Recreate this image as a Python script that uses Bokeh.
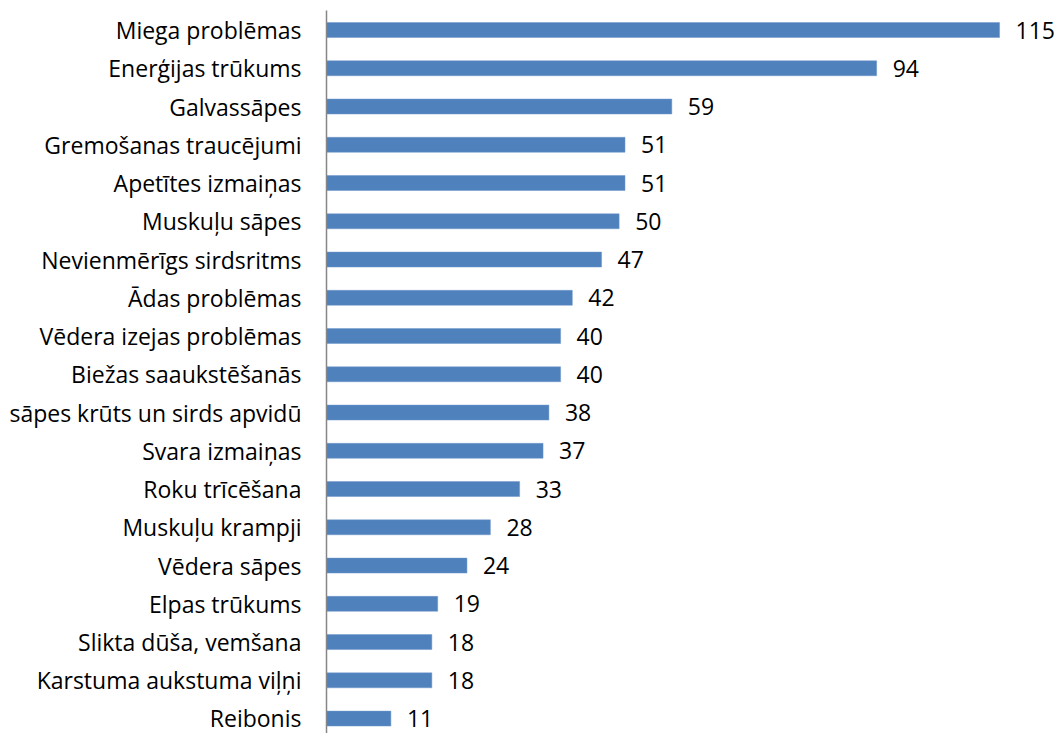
from bokeh.plotting import figure
from bokeh.models import ColumnDataSource, Range1d, FixedTicker
from bokeh.embed import file_html
from bokeh.resources import INLINE
from bokeh.core.properties import value

categories = [
    "Miega problēmas", "Enerģijas trūkums", "Galvassāpes", "Gremošanas traucējumi",
    "Apetītes izmaiņas", "Muskuļu sāpes", "Nevienmērīgs sirdsritms", "Ādas problēmas",
    "Vēdera izejas problēmas", "Biežas saaukstēšanās", "sāpes krūts un sirds apvidū",
    "Svara izmaiņas", "Roku trīcēšana", "Muskuļu krampji", "Vēdera sāpes",
    "Elpas trūkums", "Slikta dūša, vemšana", "Karstuma aukstuma viļņi", "Reibonis",
]
values = [115, 94, 59, 51, 51, 50, 47, 42, 40, 40, 38, 37, 33, 28, 24, 19, 18, 18, 11]

FONT = "Open Sans"
idx = list(range(len(categories)))
src = ColumnDataSource(dict(y=idx, v=values, lab=[str(v) for v in values]))

p = figure(width=1057, height=733, output_backend="svg", toolbar_location=None,
           x_range=Range1d(0, 124.9), y_range=Range1d(18.39, -0.51),
           min_border_left=326, min_border_right=0, min_border_top=10, min_border_bottom=0,
           outline_line_color=None)
p.xaxis.visible = False
p.xgrid.visible = False
p.ygrid.visible = False
p.background_fill_color = "white"
p.border_fill_color = "white"

p.hbar(y="y", left=0, right="v", height=0.39, source=src,
       fill_color="#4F81BD", line_color="#6E97CB", line_width=0.5)
p.text(x="v", y="y", text="lab", source=src, x_offset=16,
       text_baseline="middle", text_align="left",
       text_font=value(FONT), text_font_size="23px", text_color="#000000")

yax = p.yaxis[0]
yax.ticker = FixedTicker(ticks=idx)
yax.major_label_overrides = {i: c for i, c in enumerate(categories)}
yax.major_tick_out = 0
yax.major_tick_in = 0
yax.minor_tick_out = 0
yax.minor_tick_in = 0
yax.major_label_standoff = 25
yax.major_label_text_font = FONT
yax.major_label_text_font_size = "23px"
yax.major_label_text_color = "#000000"
yax.axis_line_color = "#868686"
yax.axis_line_width = 1.5

open("out.html", "w").write(file_html(p, INLINE))
